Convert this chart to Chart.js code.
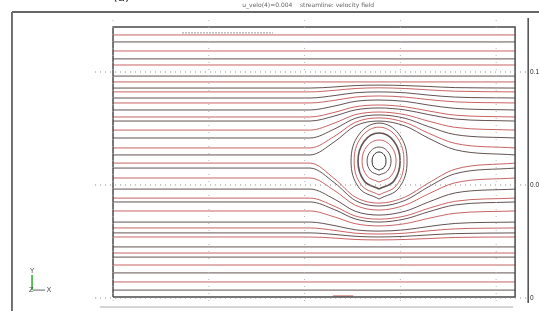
<!DOCTYPE html>
<html>
<head>
<meta charset="utf-8">
<script src="https://cdn.jsdelivr.net/npm/chart.js@4.4.1/dist/chart.umd.min.js"></script>
<style>
  html, body { margin: 0; padding: 0; background: #fff; }
  #wrap { width: 539px; height: 311px; }
</style>
</head>
<body>
<div id="wrap"><canvas id="streamChart" width="539" height="311"></canvas></div>
<script>
// Domain box and axis ticks (x in m, y in m)
const boxX = [0, 0.1679];
const boxY = [0.0004, 0.1199];
const yTicks = [0, 0.05, 0.1];
const xGrid = [0, 0.04, 0.08, 0.12, 0.16];

// Streamlines that stay straight across the channel
const straightLevels = [0.1164, 0.1133, 0.1093, 0.1058, 0.1031, 0.0982, 0.0956,
                        0.0226, 0.0199, 0.0181, 0.0146, 0.0111, 0.0071, 0.0035];

// Streamlines bent by the eddy, sampled at these x positions
const bentXs = [0, 0.0823, 0.0927, 0.1011, 0.1111, 0.1220, 0.1316, 0.1429, 0.1679];

// passing above the eddy
const bentAbove = [
    [0.0929, 0.0929, 0.0934, 0.0940, 0.0942, 0.0940, 0.0936, 0.0931, 0.0929],
    [0.0912, 0.0912, 0.0919, 0.0927, 0.0930, 0.0927, 0.0921, 0.0915, 0.0912],
    [0.0885, 0.0885, 0.0896, 0.0908, 0.0912, 0.0908, 0.0898, 0.0889, 0.0885],
    [0.0863, 0.0863, 0.0875, 0.0889, 0.0894, 0.0889, 0.0878, 0.0868, 0.0863],
    [0.0832, 0.0832, 0.0850, 0.0870, 0.0876, 0.0870, 0.0854, 0.0839, 0.0832],
    [0.0801, 0.0801, 0.0822, 0.0846, 0.0854, 0.0846, 0.0828, 0.0809, 0.0801],
    [0.0783, 0.0783, 0.0806, 0.0832, 0.0841, 0.0832, 0.0812, 0.0792, 0.0783],
    [0.0743, 0.0743, 0.0775, 0.0811, 0.0823, 0.0811, 0.0783, 0.0755, 0.0743],
    [0.0708, 0.0708, 0.0749, 0.0795, 0.0810, 0.0795, 0.0759, 0.0723, 0.0708],
    [0.0664, 0.0664, 0.0717, 0.0777, 0.0797, 0.0777, 0.0730, 0.0684, 0.0664],
    [0.0633, 0.0633, 0.0693, 0.0761, 0.0783, 0.0761, 0.0708, 0.0656, 0.0633]
];

// passing below the eddy
const bentBelow = [
    [0.0597, 0.0597, 0.0526, 0.0447, 0.0420, 0.0447, 0.0508, 0.0570, 0.0597],
    [0.0575, 0.0575, 0.0508, 0.0432, 0.0407, 0.0432, 0.0491, 0.0550, 0.0575],
    [0.0531, 0.0531, 0.0474, 0.0411, 0.0389, 0.0411, 0.0460, 0.0510, 0.0531],
    [0.0482, 0.0482, 0.0436, 0.0384, 0.0367, 0.0384, 0.0424, 0.0465, 0.0482],
    [0.0442, 0.0442, 0.0405, 0.0363, 0.0349, 0.0363, 0.0396, 0.0428, 0.0442],
    [0.0425, 0.0425, 0.0390, 0.0350, 0.0336, 0.0350, 0.0381, 0.0412, 0.0425],
    [0.0385, 0.0385, 0.0358, 0.0329, 0.0319, 0.0329, 0.0352, 0.0375, 0.0385],
    [0.0336, 0.0336, 0.0320, 0.0302, 0.0296, 0.0302, 0.0316, 0.0330, 0.0336],
    [0.0310, 0.0310, 0.0299, 0.0287, 0.0283, 0.0287, 0.0297, 0.0306, 0.0310],
    [0.0288, 0.0288, 0.0281, 0.0273, 0.0270, 0.0273, 0.0279, 0.0285, 0.0288],
    [0.0270, 0.0270, 0.0265, 0.0259, 0.0257, 0.0259, 0.0263, 0.0268, 0.0270]
];

// Closed streamlines of the eddy (x list, y list), inner to outer
const loopXs = [
    [0.1111, 0.1132, 0.1140, 0.1132, 0.1111, 0.1090, 0.1082, 0.1090, 0.1111],
    [0.1111, 0.1146, 0.1161, 0.1146, 0.1111, 0.1076, 0.1061, 0.1076, 0.1111],
    [0.1111, 0.1161, 0.1182, 0.1161, 0.1111, 0.1061, 0.1040, 0.1061, 0.1111],
    [0.1111, 0.1173, 0.1199, 0.1173, 0.1111, 0.1049, 0.1023, 0.1049, 0.1111],
    [0.1111, 0.1185, 0.1215, 0.1185, 0.1111, 0.1037, 0.1007, 0.1037, 0.1111],
    [0.1111, 0.1194, 0.1228, 0.1194, 0.1111, 0.1028, 0.0994, 0.1028, 0.1111]
];
const loopYs = [
    [0.0566, 0.0578, 0.0606, 0.0634, 0.0646, 0.0634, 0.0606, 0.0578, 0.0566],
    [0.0544, 0.0562, 0.0606, 0.0650, 0.0668, 0.0650, 0.0606, 0.0562, 0.0544],
    [0.0513, 0.0540, 0.0606, 0.0672, 0.0699, 0.0672, 0.0606, 0.0540, 0.0513],
    [0.0482, 0.0518, 0.0606, 0.0694, 0.0730, 0.0694, 0.0606, 0.0518, 0.0482],
    [0.0456, 0.0500, 0.0606, 0.0712, 0.0756, 0.0712, 0.0606, 0.0500, 0.0456],
    [0.0438, 0.0487, 0.0606, 0.0725, 0.0774, 0.0725, 0.0606, 0.0487, 0.0438]
];

const RED = "rgba(192, 72, 72, 0.85)";
const DARK = "rgba(72, 52, 52, 0.85)";

function pts(xs, ys) {
    return xs.map((x, i) => ({ x: x, y: ys[i] }));
}

function line(data, color, extra) {
    return Object.assign({
        data: data,
        showLine: true,
        borderColor: color,
        borderWidth: 1,
        pointRadius: 0,
        fill: false
    }, extra || {});
}

const datasets = [];

// frame of the picture and the right hand axis
datasets.push(line([{ x: -0.0422, y: 0.1265 }, { x: 0.1780, y: 0.1265 }], "#666", { borderWidth: 2, clip: false }));
datasets.push(line([{ x: -0.0422, y: 0.1265 }, { x: -0.0422, y: -0.0060 }], "#444", { borderWidth: 1.5, clip: false }));
datasets.push(line([{ x: 0.1734, y: 0.1239 }, { x: 0.1734, y: -0.0022 }], "#555", { clip: false }));
datasets.push(line([{ x: -0.0054, y: -0.0040 }, { x: 0.1671, y: -0.0040 }], "#aaa"));

// dotted grid
xGrid.forEach(x => {
    datasets.push(line([{ x: x, y: 0.1230 }, { x: x, y: -0.0030 }], "#b5b5b5", { borderDash: [1, 6] }));
});
yTicks.forEach(y => {
    datasets.push(line([{ x: -0.0075, y: y }, { x: 0.1729, y: y }], "#888", { borderDash: [1, 4] }));
});

// domain box
datasets.push(line([
    { x: boxX[0], y: boxY[0] }, { x: boxX[1], y: boxY[0] },
    { x: boxX[1], y: boxY[1] }, { x: boxX[0], y: boxY[1] },
    { x: boxX[0], y: boxY[0] }
], "#4a4a4a", { borderWidth: 1.5 }));

// small marks inside the box
datasets.push(line([{ x: 0.0288, y: 0.1173 }, { x: 0.0668, y: 0.1173 }], "#999", { borderDash: [2, 1] }));
datasets.push(line([{ x: 0.0919, y: 0.0009 }, { x: 0.1003, y: 0.0009 }], "rgba(200,110,110,0.8)", { borderWidth: 1.5 }));

// streamlines
straightLevels.forEach((y, i) => {
    datasets.push(line([{ x: boxX[0], y: y }, { x: boxX[1], y: y }], i % 2 ? DARK : RED));
});
bentAbove.forEach((ys, i) => {
    datasets.push(line(pts(bentXs, ys), i % 2 ? RED : DARK, { cubicInterpolationMode: "monotone" }));
});
bentBelow.forEach((ys, i) => {
    datasets.push(line(pts(bentXs, ys), i % 2 ? DARK : RED, { cubicInterpolationMode: "monotone" }));
});
loopXs.forEach((xs, i) => {
    const color = i === 0 ? "#2a2a2a" : (i % 2 ? DARK : RED);
    datasets.push(line(pts(xs, loopYs[i]), color, { tension: 0.4, borderWidth: i === 3 ? 1.6 : 1 }));
});

// coordinate triad in the lower left corner
datasets.push(line([{ x: -0.0338, y: 0.0102 }, { x: -0.0338, y: 0.0035 }], "#4b4", { clip: false }));
datasets.push(line([{ x: -0.0334, y: 0.0035 }, { x: -0.0284, y: 0.0035 }], "#666", { clip: false }));

// texts placed through the scales
const labelsPlugin = {
    id: "labels",
    afterDraw(chart) {
        const ctx = chart.ctx;
        const xs = chart.scales.x;
        const ys = chart.scales.y;
        ctx.save();
        ctx.fillStyle = "#666";
        ctx.font = "6px 'DejaVu Sans'";
        ctx.textAlign = "center";
        ctx.textBaseline = "middle";
        ctx.fillText("u_velo(4)=0.004    streamline: velocity field", xs.getPixelForValue(0.0815), ys.getPixelForValue(0.1296));

        ctx.fillStyle = "#333";
        ctx.font = "12px 'DejaVu Sans'";
        ctx.textAlign = "left";
        ctx.textBaseline = "bottom";
        ctx.fillText("(a)", xs.getPixelForValue(0), ys.getPixelForValue(0.1300));

        ctx.fillStyle = "#555";
        ctx.font = "7px 'DejaVu Sans'";
        ctx.textAlign = "center";
        ctx.textBaseline = "middle";
        ctx.fillText("Y", xs.getPixelForValue(-0.0338), ys.getPixelForValue(0.0120));
        ctx.fillText("Z", xs.getPixelForValue(-0.0342), ys.getPixelForValue(0.0035));
        ctx.fillText("X", xs.getPixelForValue(-0.0268), ys.getPixelForValue(0.0035));
        ctx.restore();
    }
};

new Chart(document.getElementById("streamChart"), {
    type: "scatter",
    data: { datasets: datasets },
    options: {
        responsive: false,
        animation: false,
        devicePixelRatio: 1,
        layout: { padding: 0 },
        plugins: {
            legend: { display: false },
            tooltip: { enabled: false }
        },
        scales: {
            x: {
                type: "linear",
                min: -0.0472,
                max: 0.1733,
                display: false
            },
            y: {
                type: "linear",
                position: "right",
                min: -0.00575,
                max: 0.13186,
                grid: { display: false, drawTicks: false },
                border: { display: false },
                ticks: {
                    color: "#222",
                    padding: 2,
                    font: { size: 6.5, family: "'Liberation Sans'" }
                },
                afterBuildTicks: scale => {
                    scale.ticks = yTicks.map(v => ({ value: v }));
                },
                afterFit: scale => {
                    scale.width = 11;
                    scale.paddingTop = 0;
                    scale.paddingBottom = 0;
                }
            }
        }
    },
    plugins: [labelsPlugin]
});
</script>
</body>
</html>
